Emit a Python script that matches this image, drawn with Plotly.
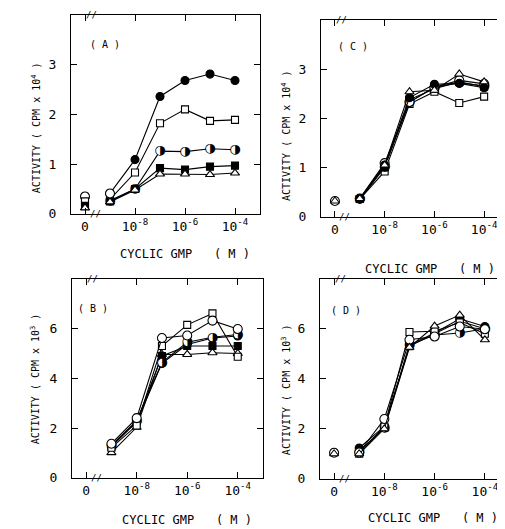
import plotly.graph_objects as go

# ---------------- data ----------------
conc = [1e-9, 1e-8, 1e-7, 1e-6, 1e-5, 1e-4]   # cyclic GMP (M)
zero_pos = 1e-10                              # position used for the "0" concentration
x_tickvals = [1e-10, 1e-8, 1e-6, 1e-4]
x_ticktext = ["0", "10<sup>-8</sup>", "10<sup>-6</sup>", "10<sup>-4</sup>"]

# Panel A (cpm x 10^4)
A_filled_circle = [0.41, 1.09, 2.36, 2.68, 2.81, 2.68]
A_open_square   = [0.29, 0.83, 1.82, 2.10, 1.87, 1.89]
A_half_circle   = [0.27, 0.50, 1.26, 1.25, 1.31, 1.29]
A_filled_square = [0.25, 0.50, 0.92, 0.89, 0.95, 0.97]
A_triangle      = [0.24, 0.48, 0.80, 0.80, 0.79, 0.82]
A_open_circle_first = [0.41]
A_zero = {"circle-open": 0.35, "square-open": 0.25, "square": 0.16, "triangle-up-open": 0.12}

# Panel C (cpm x 10^4)
C_filled_circle = [0.37, 1.05, 2.42, 2.69, 2.71, 2.62]
C_open_square   = [0.36, 0.92, 2.29, 2.54, 2.31, 2.44]
C_half_circle   = [0.36, 1.02, 2.33, 2.63, 2.72, 2.66]
C_filled_square = [0.36, 1.00, 2.38, 2.60, 2.74, 2.64]
C_triangle      = [0.37, 1.05, 2.54, 2.57, 2.90, 2.74]
C_open_circle   = [0.37, 1.09, 2.33, 2.63, 2.77, 2.70]
C_zero = {"circle-open": 0.32, "triangle-up-open": 0.32}

# Panel B (cpm x 10^3)
B_open_square   = [1.21, 2.10, 5.30, 6.15, 6.61, 4.87]
B_open_circle   = [1.37, 2.40, 5.62, 5.72, 6.32, 5.98]
B_half_circle   = [1.30, 2.30, 4.64, 5.45, 5.65, 5.76]
B_filled_circle = [1.30, 2.25, 4.60, 5.36, 5.62, 5.70]
B_filled_square = [1.25, 2.25, 4.90, 5.30, 5.30, 5.30]
B_triangle      = [1.01, 2.03, 4.96, 4.96, 5.03, 5.00]

# Panel D (cpm x 10^3)
D_open_square   = [1.00, 2.09, 5.87, 5.90, 6.25, 5.80]
D_open_circle   = [1.05, 2.39, 5.56, 5.69, 6.09, 5.98]
D_half_circle   = [1.10, 2.05, 5.35, 5.75, 5.83, 6.00]
D_filled_circle = [1.23, 2.10, 5.35, 5.83, 6.40, 6.09]
D_filled_square = [1.10, 2.05, 5.30, 5.80, 6.30, 6.00]
D_triangle      = [1.00, 2.00, 5.26, 6.11, 6.55, 5.56]
D_zero = {"circle": 1.05, "circle-open": 1.04, "triangle-up-open": 1.00}

# ---------------- styling ----------------
FONT = "DejaVu Sans Mono"
W, H = 505, 529

STY = {
    "filled_circle": dict(symbol="circle", size=8, color="black"),
    "open_circle":   dict(symbol="circle", size=9, color="white"),
    "half_circle":   dict(symbol="circle", size=8, color="white", half=True),
    "open_square":   dict(symbol="square", size=7, color="white"),
    "filled_square": dict(symbol="square", size=7, color="black"),
    "triangle":      dict(symbol="triangle-up", size=8, color="white"),
}

def marker(kind):
    s = STY[kind]
    if s.get("half"):
        return dict(symbol="circle", size=8, color="white", line=dict(width=0))
    return dict(symbol=s["symbol"], size=s["size"], color=s["color"],
                line=dict(color="black", width=1.1))

fig = go.Figure()

def add_series(ax, ay, kind, vals):
    xs = conc[:len(vals)]
    if STY[kind].get("half"):
        fig.add_trace(go.Scatter(x=xs, y=vals, mode="lines+markers+text",
                                 text=["\u25d1"] * len(vals), textposition="middle center",
                                 textfont=dict(family="DejaVu Sans", size=13, color="black"),
                                 xaxis=ax, yaxis=ay, line=dict(color="black", width=1.1),
                                 marker=marker(kind), showlegend=False, cliponaxis=False))
    else:
        fig.add_trace(go.Scatter(x=xs, y=vals, mode="lines+markers",
                                 xaxis=ax, yaxis=ay, line=dict(color="black", width=1.1),
                                 marker=marker(kind), showlegend=False, cliponaxis=False))

zero_kind = {"circle-open": "open_circle", "square-open": "open_square", "square": "filled_square",
             "triangle-up-open": "triangle", "circle": "filled_circle"}

def add_zero(ax, ay, zd):
    for k, v in zd.items():
        fig.add_trace(go.Scatter(x=[zero_pos], y=[v], mode="markers", xaxis=ax, yaxis=ay,
                                 marker=marker(zero_kind[k]), showlegend=False, cliponaxis=False))

# Panel A
for kind, vals in [("filled_circle", A_filled_circle), ("open_square", A_open_square),
                   ("half_circle", A_half_circle), ("filled_square", A_filled_square),
                   ("triangle", A_triangle)]:
    add_series("x", "y", kind, vals)
fig.add_trace(go.Scatter(x=conc[:1], y=A_open_circle_first, mode="markers", xaxis="x", yaxis="y",
                         marker=marker("open_circle"), showlegend=False))
add_zero("x", "y", A_zero)

# Panel C
for kind, vals in [("open_square", C_open_square), ("half_circle", C_half_circle),
                   ("filled_square", C_filled_square), ("open_circle", C_open_circle),
                   ("filled_circle", C_filled_circle), ("triangle", C_triangle)]:
    add_series("x2", "y2", kind, vals)
add_zero("x2", "y2", C_zero)

# Panel B
for kind, vals in [("triangle", B_triangle), ("filled_square", B_filled_square),
                   ("filled_circle", B_filled_circle), ("half_circle", B_half_circle),
                   ("open_square", B_open_square), ("open_circle", B_open_circle)]:
    add_series("x3", "y3", kind, vals)

# Panel D
for kind, vals in [("half_circle", D_half_circle), ("filled_square", D_filled_square),
                   ("filled_circle", D_filled_circle), ("open_square", D_open_square),
                   ("open_circle", D_open_circle), ("triangle", D_triangle)]:
    add_series("x4", "y4", kind, vals)
add_zero("x4", "y4", D_zero)

# ---------------- axes ----------------
def px_dom(a, b, total):
    return [a / total, b / total]

def ydom(top, bottom):
    return [1 - bottom / H, 1 - top / H]

boxes = {
    "1": dict(x=(63, 252), y=(7, 209), yr=[0, 4.0], yt=[0, 1, 2, 3]),
    "2": dict(x=(313, 501), y=(12, 212), yr=[0, 4.0], yt=[0, 1, 2, 3]),
    "3": dict(x=(64, 255), y=(275, 477), yr=[0, 8.0], yt=[0, 2, 4, 6]),
    "4": dict(x=(312, 502), y=(275, 478), yr=[0, 8.0], yt=[0, 2, 4, 6]),
}

lay = dict(width=W, height=H, margin=dict(l=0, r=0, t=0, b=0),
           paper_bgcolor="white", plot_bgcolor="white", showlegend=False,
           font=dict(family=FONT, color="black"))

for k, b in boxes.items():
    xn = "xaxis" if k == "1" else f"xaxis{k}"
    yn = "yaxis" if k == "1" else f"yaxis{k}"
    xa = "x" if k == "1" else f"x{k}"
    ya = "y" if k == "1" else f"y{k}"
    lay[xn] = dict(domain=px_dom(b["x"][0], b["x"][1], W), anchor=ya, type="log",
                   range=[-10.56, -3.0], tickvals=x_tickvals, ticktext=x_ticktext,
                   ticks="inside", ticklen=6, tickwidth=1.2, tickcolor="black",
                   showline=True, linecolor="black", linewidth=1.3, mirror="ticks",
                   showgrid=False, zeroline=False, tickfont=dict(size=13, family=FONT),
                   ticklabelstandoff=0)
    lay[yn] = dict(domain=ydom(b["y"][0], b["y"][1]), anchor=xa, range=b["yr"],
                   tickvals=b["yt"], ticks="inside", ticklen=6, tickwidth=1.2, tickcolor="black",
                   showline=True, linecolor="black", linewidth=1.3, mirror="ticks",
                   showgrid=False, zeroline=False, tickfont=dict(size=13, family=FONT),
                   ticklabelstandoff=11)

fig.update_layout(**lay)

# ---------------- text ----------------
def ann(text, x, y, size=10, angle=0):
    fig.add_annotation(text=text, x=x / W, y=1 - y / H, xref="paper", yref="paper",
                       showarrow=False, textangle=angle, font=dict(size=size, family=FONT),
                       xanchor="center", yanchor="middle")

ann("( A )", 97, 37)
ann("( C )", 345, 39)
ann("( B )", 85, 305)
ann("( D )", 338, 307)

ann("ACTIVITY ( CPM x 10<sup>4</sup> )", 28, 122, size=10, angle=-90)
ann("ACTIVITY ( CPM x 10<sup>4</sup> )", 278, 130, size=10, angle=-90)
ann("ACTIVITY ( CPM x 10<sup>3</sup> )", 27, 377, size=10, angle=-90)
ann("ACTIVITY ( CPM x 10<sup>3</sup> )", 278, 388, size=10, angle=-90)

ann("CYCLIC GMP   ( M )", 177, 250, size=12)
ann("CYCLIC GMP   ( M )", 422, 265, size=12)
ann("CYCLIC GMP   ( M )", 179, 520, size=12)
ann("CYCLIC GMP   ( M )", 425, 518, size=12)

# axis break marks
for xa, ya, ytop in [("x", "y", 4.0), ("x2", "y2", 4.0), ("x3", "y3", 8.0), ("x4", "y4", 8.0)]:
    fig.add_annotation(text="//", x=-9.6, y=0, xref=xa, yref=ya, showarrow=False,
                       font=dict(size=9, family=FONT))
    fig.add_annotation(text="//", x=-9.75, y=ytop, xref=xa, yref=ya, showarrow=False,
                       font=dict(size=9, family=FONT))

fig.write_html("out.html")
